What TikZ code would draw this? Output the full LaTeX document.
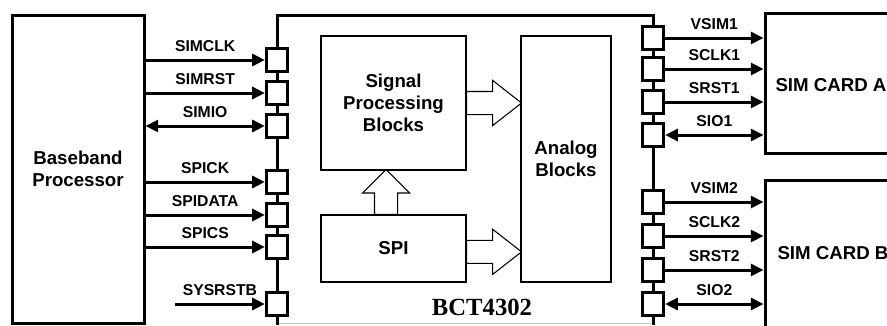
\documentclass[tikz,border=0pt]{standalone}
\usepackage{fontspec}
\setmainfont{Liberation Sans}
\newfontfamily\chipfont{Liberation Serif}
\usetikzlibrary{arrows.meta,shapes.arrows}

\tikzset{every picture/.style={line width=0.75pt}}
\tikzset{
  heavy/.style={line width=2.25pt},
  padbox/.style={draw, fill=white, line width=2.25pt, minimum width=16pt, minimum height=17pt, inner sep=0pt},
  blockbox/.style={draw, line width=0.8pt, align=center, font=\fontsize{14}{16.5}\selectfont\bfseries},
  sigin/.style={line width=2.25pt, -{Triangle[length=9.5pt,width=9pt]}},
  sigio/.style={line width=2.25pt, {Triangle[length=9.5pt,width=9pt]}-{Triangle[length=9.5pt,width=9pt]}},
  siglabel/.style={above=5.5pt, inner sep=0pt, font=\fontsize{11.8}{14}\selectfont\bfseries},
  fatarrow/.style={draw, line width=0.8pt, single arrow, inner sep=8.25pt, outer sep=0pt, anchor=tail}
}

\begin{document}
\begin{tikzpicture}[x=0.75pt,y=0.75pt,yscale=-1,xscale=1]
\useasboundingbox (0,0) rectangle (887,325);
%Baseband side
\node[draw, heavy, minimum width=99pt, minimum height=231pt, align=center, font=\fontsize{14}{16.5}\selectfont\bfseries] (bb) at (78,169) {Baseband\\Processor};

%Chip outline
\draw[heavy] (277,325) -- (277,15) -- (653,15) -- (653,325);
\draw[gray!45] (279,323) -- (651,323);

%Inner blocks
\node[blockbox, minimum width=108.75pt, minimum height=100.5pt] (sig) at (393.5,103) {Signal\\Processing\\Blocks};
\node[blockbox, minimum width=108.75pt, minimum height=50.25pt] (spi) at (393.5,248.5) {SPI};
\node[blockbox, minimum width=67.5pt, minimum height=184.5pt] (ana) at (566,159) {Analog\\Blocks};

%Hollow arrows
\node[fatarrow, single arrow head extend=8.25pt, single arrow tip angle=76, minimum height=41.25pt] (aSigAna) at (sig.east) {};
\node[fatarrow, single arrow head extend=8.25pt, single arrow tip angle=76, minimum height=41.25pt] (aSpiAna) at ([yshift=2.5pt]spi.east) {};
\node[fatarrow, shape border rotate=90, single arrow head extend=9pt, single arrow tip angle=90, minimum height=33.75pt] (aSpiSig) at ([xshift=-5.6pt]spi.north) {};

% Text Node
\node[font=\chipfont\fontsize{18.5}{20}\selectfont\bfseries] (tChip) at (482,307) {BCT4302};

%Left pads
\node[padbox] (pSIMCLK) at (277,60) {};
\node[padbox] (pSIMRST) at (277,93) {};
\node[padbox] (pSIMIO) at (277,126) {};
\node[padbox] (pSPICK) at (277,182) {};
\node[padbox] (pSPIDATA) at (277,215) {};
\node[padbox] (pSPICS) at (277,247) {};
\node[padbox] (pSYSRSTB) at (277,304) {};

%Right pads
\node[padbox] (pVSIM1) at (653,38) {};
\node[padbox] (pSCLK1) at (653,69) {};
\node[padbox] (pSRST1) at (653,102) {};
\node[padbox] (pSIO1) at (653,135) {};
\node[padbox] (pVSIM2) at (653,202) {};
\node[padbox] (pSCLK2) at (653,236) {};
\node[padbox] (pSRST2) at (653,270) {};
\node[padbox] (pSIO2) at (653,304) {};

%SIM cards
\node[draw, heavy, minimum width=116.25pt, minimum height=105pt] (simA) at (842.5,83) {};
\node[draw, heavy, minimum width=116.25pt, minimum height=120pt] (simB) at (842.5,260) {};
\node[anchor=west, inner sep=0pt, font=\fontsize{14}{16.5}\selectfont\bfseries] (tSimA) at (775,85) {SIM CARD A};
\node[anchor=west, inner sep=0pt, font=\fontsize{14}{16.5}\selectfont\bfseries] (tSimB) at (777,253) {SIM CARD B};

%Baseband to chip
\draw[sigin] (bb.east |- pSIMCLK) -- node[siglabel] (tSIMCLK) {SIMCLK} (pSIMCLK.west);
\draw[sigin] (bb.east |- pSIMRST) -- node[siglabel] (tSIMRST) {SIMRST} (pSIMRST.west);
\draw[sigio] (bb.east |- pSIMIO) -- node[siglabel] (tSIMIO) {SIMIO} (pSIMIO.west);
\draw[sigin] (bb.east |- pSPICK) -- node[siglabel] (tSPICK) {SPICK} (pSPICK.west);
\draw[sigin] (bb.east |- pSPIDATA) -- node[siglabel] (tSPIDATA) {SPIDATA} (pSPIDATA.west);
\draw[sigin] (bb.east |- pSPICS) -- node[siglabel] (tSPICS) {SPICS} (pSPICS.west);
\coordinate (sysin) at (175,304);
\draw[sigin] (sysin) -- node[siglabel] (tSYSRSTB) {SYSRSTB} (pSYSRSTB.west);

%Chip to SIM cards
\draw[sigin] (pVSIM1.east) -- node[siglabel] (tVSIM1) {VSIM1} (pVSIM1 -| simA.west);
\draw[sigin] (pSCLK1.east) -- node[siglabel] (tSCLK1) {SCLK1} (pSCLK1 -| simA.west);
\draw[sigin] (pSRST1.east) -- node[siglabel] (tSRST1) {SRST1} (pSRST1 -| simA.west);
\draw[sigio] (pSIO1.east) -- node[siglabel] (tSIO1) {SIO1} (pSIO1 -| simA.west);
\draw[sigin] (pVSIM2.east) -- node[siglabel] (tVSIM2) {VSIM2} (pVSIM2 -| simB.west);
\draw[sigin] (pSCLK2.east) -- node[siglabel] (tSCLK2) {SCLK2} (pSCLK2 -| simB.west);
\draw[sigin] (pSRST2.east) -- node[siglabel] (tSRST2) {SRST2} (pSRST2 -| simB.west);
\draw[sigio] (pSIO2.east) -- node[siglabel] (tSIO2) {SIO2} (pSIO2 -| simB.west);
\end{tikzpicture}
\end{document}
